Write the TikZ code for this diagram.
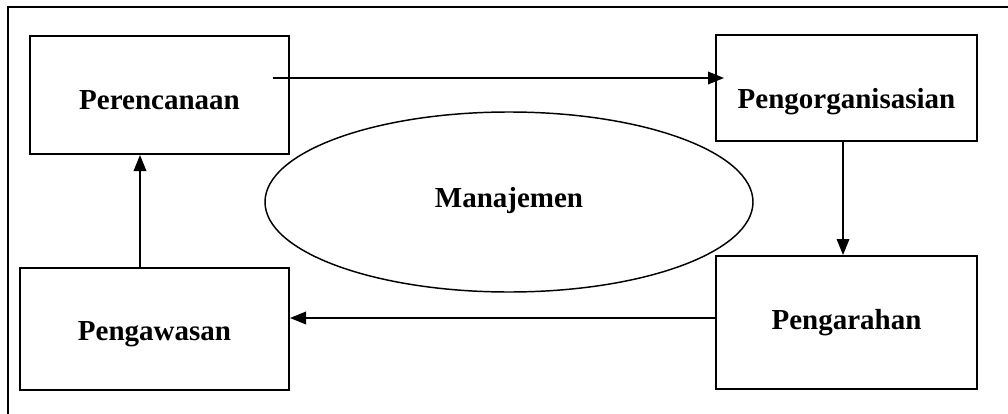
\documentclass[tikz,border=0pt]{standalone}
\usepackage{fontspec}
\setmainfont{Liberation Serif}
\usetikzlibrary{shapes.geometric}
\usetikzlibrary{arrows.meta}
\newcommand{\geser}[2]{\raisebox{#1}[\height][\depth]{#2}}
\tikzset{
  kotak/.style={draw, line width=1.5pt, inner sep=0pt, font=\fontsize{21.75}{26}\selectfont\bfseries},
  bulat/.style={ellipse, draw, line width=1.1pt, inner sep=0pt, font=\fontsize{21.75}{26}\selectfont\bfseries},
  panah/.style={line width=1pt, -{Triangle[length=12pt,width=9.5pt]}}
}
\begin{document}
\begin{tikzpicture}[x=0.75pt,y=-0.75pt]
        \useasboundingbox (0,0) rectangle (1008,414);
        % frame
        \draw[line width=1.2pt] (8,414) -- (8,7) -- (1008,7);

        % boxes
        \node[kotak, minimum width=194.25pt, minimum height=88.5pt] (ren) at (159.5,95) {\geser{-3.75pt}{Perencanaan}};
        \node[kotak, minimum width=195.75pt, minimum height=79.5pt] (org) at (846.5,88) {\geser{-10.5pt}{Pengorganisasian}};
        \node[kotak, minimum width=195.75pt, minimum height=99.75pt] (arh) at (846.5,322.5) {Pengarahan};
        \node[kotak, minimum width=201.75pt, minimum height=91.5pt] (aws) at (154.5,329) {\geser{-3.75pt}{Pengawasan}};
        \node[bulat, minimum width=366pt, minimum height=135pt] (mnj) at (509,202) {\geser{0.75pt}{Manajemen}};

        % arrows
        \coordinate (c1) at ([shift={(0,-4.5)}]arh.west);
        \coordinate (c2) at ([shift={(-14.5,0)}]aws.north);
        \draw[panah] ([shift={(-17,-17)}]ren.east) -- ([shift={(9,-10)}]org.west);
        \draw[panah] ([xshift=-2.6pt]org.south) -- ([xshift=-2.6pt]arh.north);
        \draw[panah] (c1) -- (c1 -| aws.east);
        \draw[panah] (c2) -- (c2 |- ren.south);
    \end{tikzpicture}
\end{document}
